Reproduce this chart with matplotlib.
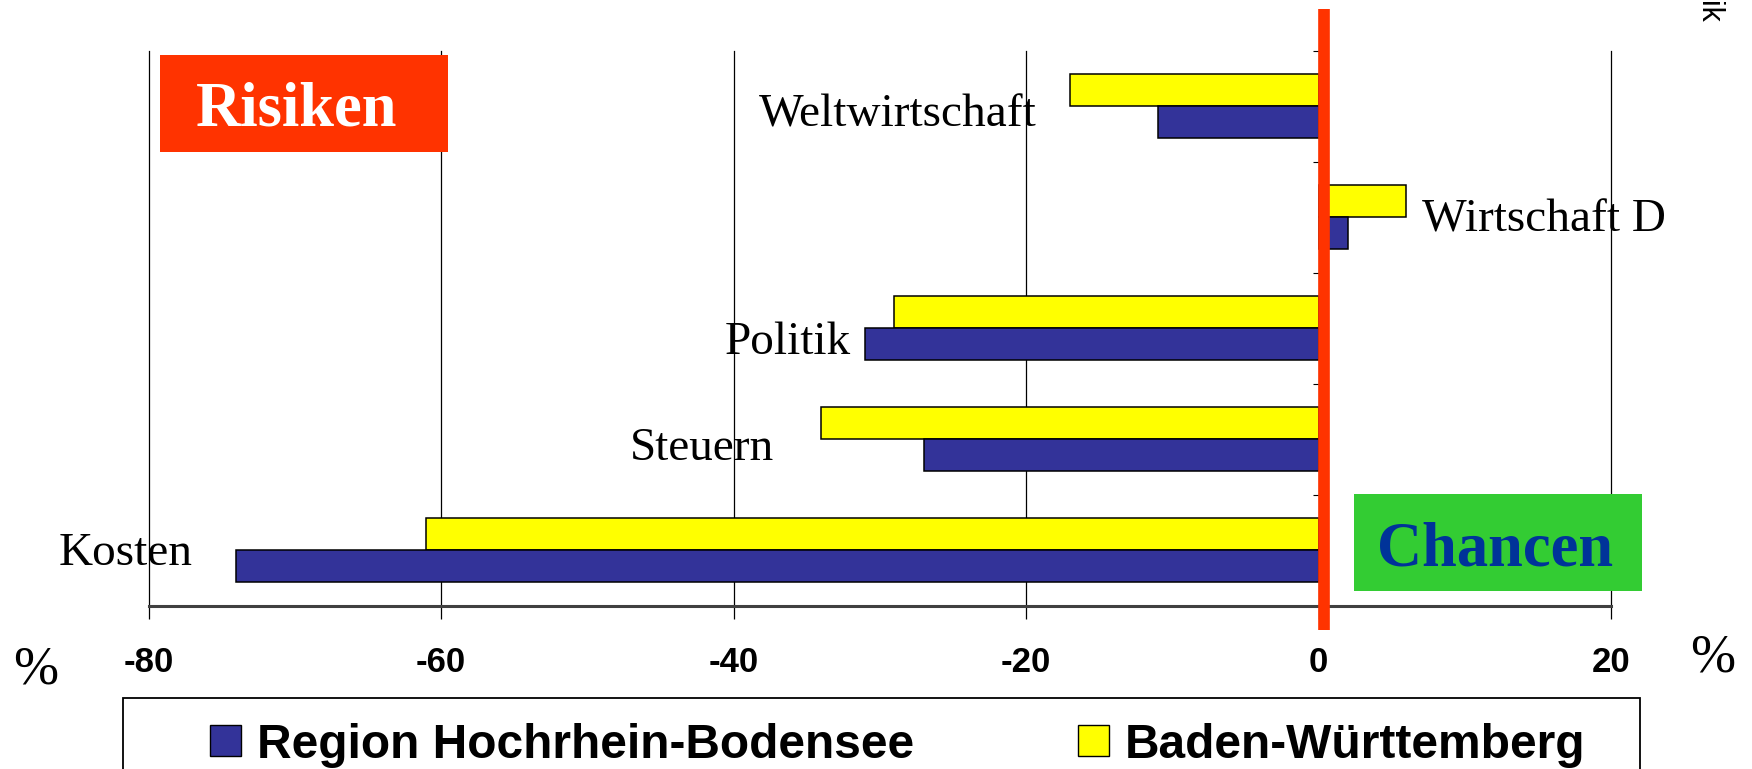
import matplotlib
matplotlib.use("Agg")
import matplotlib.pyplot as plt
from matplotlib.patches import Rectangle
import numpy as np

categories = ["Weltwirtschaft", "Wirtschaft D", "Politik", "Steuern", "Kosten"]
series_names = ["Region Hochrhein-Bodensee", "Baden-Württemberg"]
region_vals = [-11, 2, -31, -27, -74]
bw_vals = [-17, 6, -29, -34, -61]
xticks = [-80, -60, -40, -20, 0, 20]

# label anchors (data coords): x, baseline y, alignment
label_pos = [(-19.3, 0.186, "right"), (7.05, 1.132, "left"), (-32.0, 2.234, "right"),
             (-37.2, 3.189, "right"), (-77.0, 4.135, "right")]

W, H = 1752, 769
fig = plt.figure(figsize=(W / 100, H / 100), dpi=100)
ax = fig.add_axes([148.6 / W, 1 - 605.5 / H, (1611 - 148.6) / W, 555 / H])

blue = "#333399"
yellow = "#FFFF00"
y = np.arange(len(categories))
bh = 0.284
ax.barh(y - bh / 2, bw_vals, height=bh, color=yellow, edgecolor="black", linewidth=1.1, zorder=3)
ax.barh(y + bh / 2, region_vals, height=bh, color=blue, edgecolor="black", linewidth=1.1, zorder=3)

ax.set_xlim(-80, 20)
ax.set_ylim(4.5, -0.5)

for gx in [-80, -60, -40, -20, 20]:
    ax.axvline(gx, color="black", lw=0.9, zorder=1, clip_on=False)

for s in ["top", "right"]:
    ax.spines[s].set_visible(False)
ax.spines["left"].set_position(("data", 0))
ax.spines["left"].set_linewidth(0.8)
ax.spines["bottom"].set_color("#404040")
ax.spines["bottom"].set_linewidth(2.2)

ax.set_yticks(np.arange(-0.5, len(categories) + 0.5, 1.0))
ax.set_yticklabels([])
ax.tick_params(axis="y", direction="out", length=4.5, width=0.8, color="black")

ax.set_xticks(xticks)
ax.set_xticklabels([str(t) for t in xticks], fontfamily="Liberation Sans",
                   fontweight="bold", fontsize=25)
ax.tick_params(axis="x", direction="out", length=9, width=0.9, color="black", pad=20)

for (lx, ly, ha), name in zip(label_pos, categories):
    ax.text(lx, ly, name, ha=ha, va="baseline", fontfamily="Liberation Serif",
            fontsize=34, color="black", zorder=5)

# red zero line
ax.axvline(0.38, ymin=-0.044, ymax=1.075, color="#FF3300", lw=8.4, zorder=6,
           clip_on=False, solid_capstyle="butt")

# Risiken / Chancen boxes
fig.patches.append(Rectangle((160 / W, 1 - 151.7 / H), 288 / W, 96.7 / H,
                             transform=fig.transFigure, facecolor="#FF3300", edgecolor="none", zorder=7))
fig.text(297 / W, 1 - 126 / H, "Risiken", ha="center", va="baseline", color="white",
         fontfamily="Liberation Serif", fontweight="bold", fontsize=45, zorder=8)
fig.patches.append(Rectangle((1354 / W, 1 - 590.7 / H), 288 / W, 96.7 / H,
                             transform=fig.transFigure, facecolor="#33CC33", edgecolor="none", zorder=7))
fig.text(1495.5 / W, 1 - 565 / H, "Chancen", ha="center", va="baseline", color="#003399",
         fontfamily="Liberation Serif", fontweight="bold", fontsize=45, zorder=8)

# percent signs
fig.text(36 / W, 1 - 683 / H, "%", ha="center", va="baseline", fontfamily="Liberation Serif", fontsize=39)
fig.text(1713 / W, 1 - 672 / H, "%", ha="center", va="baseline", fontfamily="Liberation Serif", fontsize=39)

# cut-off rotated text top right
fig.text(1708 / W, 1 - 23 / H, "ik", rotation=270, ha="center", va="bottom",
         fontfamily="Liberation Sans", fontsize=22)

# legend (frame runs off bottom edge)
fig.patches.append(Rectangle((123 / W, -0.05), (1640 - 123) / W, 0.05 + 1 - 698 / H,
                             transform=fig.transFigure, facecolor="white", edgecolor="black",
                             linewidth=1.3, zorder=2))
leg_colors = [blue, yellow]
leg_x = [210, 1078]
for name, c, lx in zip(series_names, leg_colors, leg_x):
    fig.patches.append(Rectangle((lx / W, 1 - 756 / H), 31 / W, 31 / H, transform=fig.transFigure,
                                 facecolor=c, edgecolor="black", linewidth=1.0, zorder=3))
    fig.text((lx + 47) / W, 1 - 740 / H, name, ha="left", va="center_baseline",
             fontfamily="Liberation Sans", fontweight="bold", fontsize=34.5, zorder=4)

fig.savefig("out.png", dpi=100)
